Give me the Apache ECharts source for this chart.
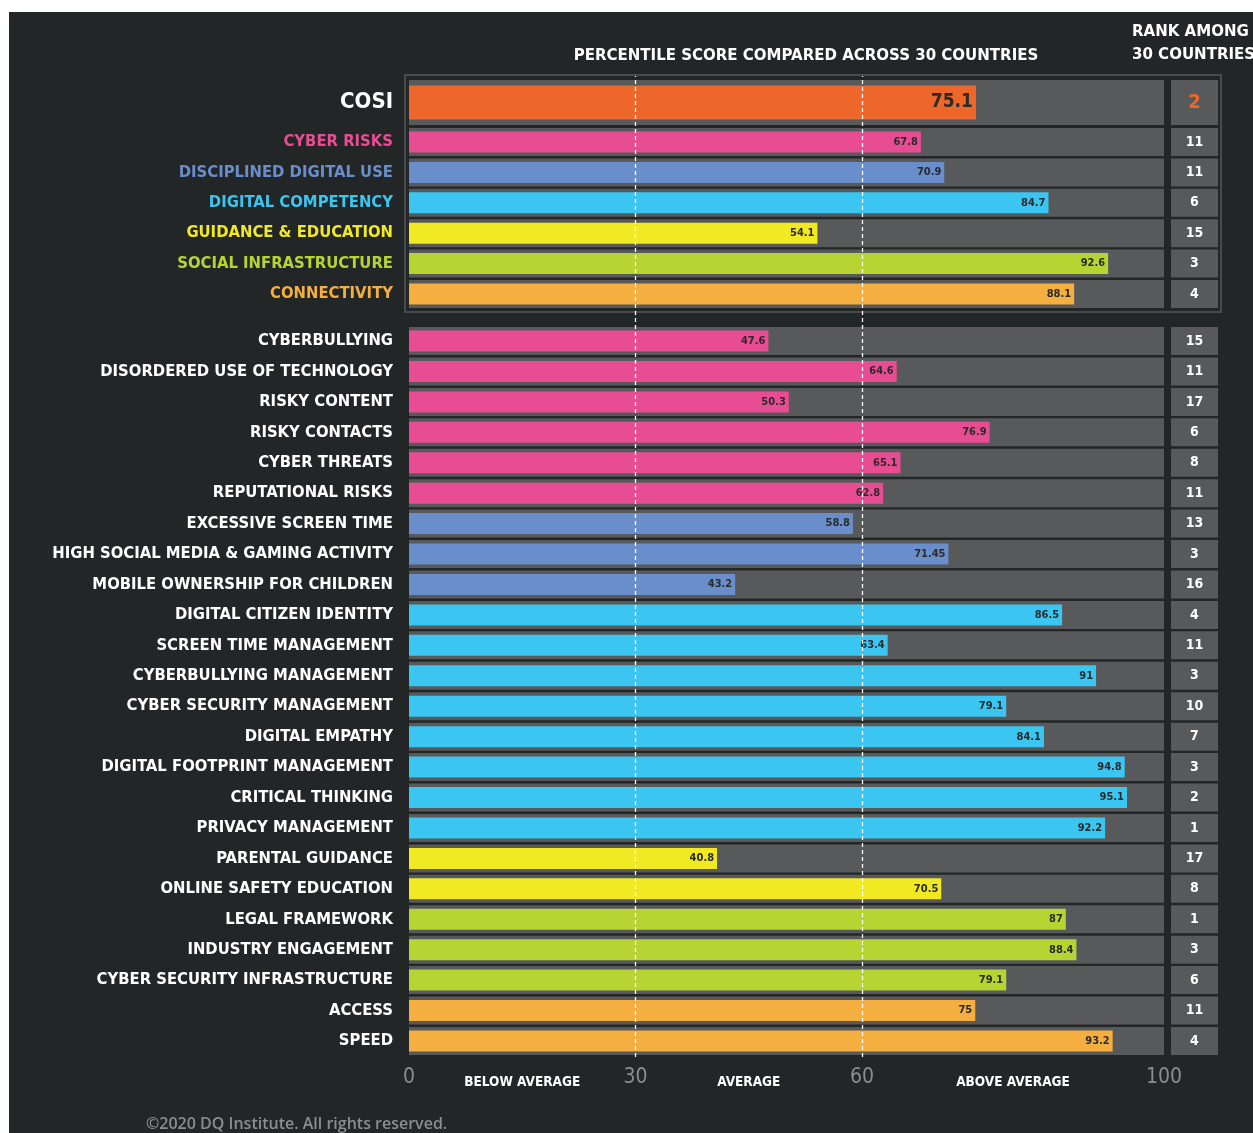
<!DOCTYPE html>
<html><head><meta charset="utf-8">
<script src="https://cdn.jsdelivr.net/npm/echarts@6/dist/echarts.min.js"></script>
<style>
html,body{margin:0;padding:0;background:#fff;width:1253px;height:1133px;overflow:hidden;}
#bg{position:absolute;left:9px;top:12px;width:1244px;height:1121px;background:#222627;}
#chart{position:absolute;left:0;top:0;width:1253px;height:1133px;}
</style></head><body><div id="bg"></div><div id="chart"></div>
<script>
// ---------- data ----------
const cosiCategory = ['COSI'];
const cosiValues = [75.1];
const cosiRanks = [2];

const dimensionCategories = ['CYBER RISKS','DISCIPLINED DIGITAL USE','DIGITAL COMPETENCY','GUIDANCE & EDUCATION','SOCIAL INFRASTRUCTURE','CONNECTIVITY'];
const dimensionValues = [67.8, 70.9, 84.7, 54.1, 92.6, 88.1];
const dimensionRanks = [11, 11, 6, 15, 3, 4];

const indicatorCategories = ['CYBERBULLYING','DISORDERED USE OF TECHNOLOGY','RISKY CONTENT','RISKY CONTACTS','CYBER THREATS','REPUTATIONAL RISKS','EXCESSIVE SCREEN TIME','HIGH SOCIAL MEDIA & GAMING ACTIVITY','MOBILE OWNERSHIP FOR CHILDREN','DIGITAL CITIZEN IDENTITY','SCREEN TIME MANAGEMENT','CYBERBULLYING MANAGEMENT','CYBER SECURITY MANAGEMENT','DIGITAL EMPATHY','DIGITAL FOOTPRINT MANAGEMENT','CRITICAL THINKING','PRIVACY MANAGEMENT','PARENTAL GUIDANCE','ONLINE SAFETY EDUCATION','LEGAL FRAMEWORK','INDUSTRY ENGAGEMENT','CYBER SECURITY INFRASTRUCTURE','ACCESS','SPEED'];
const indicatorValues = [47.6, 64.6, 50.3, 76.9, 65.1, 62.8, 58.8, 71.45, 43.2, 86.5, 63.4, 91, 79.1, 84.1, 94.8, 95.1, 92.2, 40.8, 70.5, 87, 88.4, 79.1, 75, 93.2];
const indicatorRanks = [15, 11, 17, 6, 8, 11, 13, 3, 16, 4, 11, 3, 10, 7, 3, 2, 1, 17, 8, 1, 3, 6, 11, 4];
// which dimension each indicator belongs to (index into dimensionCategories)
const indicatorDimension = [0,0,0,0,0,0,1,1,1,2,2,2,2,2,2,2,2,3,3,4,4,4,5,5];

const xTicks = [0, 30, 60, 100];
const zoneLabels = ['BELOW AVERAGE', 'AVERAGE', 'ABOVE AVERAGE'];

const titleText = 'PERCENTILE SCORE COMPARED ACROSS 30 COUNTRIES';
const rankTitle = 'RANK AMONG\n30 COUNTRIES';
const copyright = '\u00a92020 DQ Institute. All rights reserved.';

// ---------- style ----------
const FONT = "'DejaVu Sans Condensed','Liberation Sans Narrow','Liberation Sans',sans-serif";
const dimensionColors = ['#e84c93', '#6a8dcb', '#3bc5f1', '#f1e922', '#b8d433', '#f5ae40'];
const cosiColor = '#ec6729';
const trackColor = '#58595b';
const X_MIN = xTicks[0], X_MAX = xTicks[xTicks.length - 1];
const zoneMids = zoneLabels.map((_, i) => (xTicks[i] + xTicks[i + 1]) / 2);

const groups = [
  { cats: cosiCategory, vals: cosiValues, ranks: cosiRanks, color: () => cosiColor, labelColor: () => '#ffffff',
    labelSize: 22, labelPad: [5, 0, 0, 0], trackW: 45, barW: 34, valSize: 19, rankSize: 20, rankColor: cosiColor, rankH: 45,
    grid: { top: 80, height: 45 } },
  { cats: dimensionCategories, vals: dimensionValues, ranks: dimensionRanks, color: i => dimensionColors[i], labelColor: i => dimensionColors[i],
    labelSize: 16.5, labelPad: 0, trackW: 28, barW: 21, valSize: 11, rankSize: 14, rankColor: '#ffffff', rankH: 28,
    grid: { top: 126.8, height: 182.4 } },
  { cats: indicatorCategories, vals: indicatorValues, ranks: indicatorRanks, color: i => dimensionColors[indicatorDimension[i]], labelColor: () => '#ffffff',
    labelSize: 16.5, labelPad: 0, trackW: 28, barW: 21, valSize: 11, rankSize: 14, rankColor: '#ffffff', rankH: 28,
    grid: { top: 325.8, height: 730.4 } }
];

const GL = 409, GR = 89;
const grid = [], xAxis = [], yAxis = [], series = [];
groups.forEach((g, gi) => {
  grid.push({ left: GL, right: GR, top: g.grid.top, height: g.grid.height });
  xAxis.push({ gridIndex: gi, type: 'value', min: X_MIN, max: X_MAX, show: false });
  yAxis.push({
    gridIndex: gi, type: 'category', data: g.cats, inverse: true,
    axisLine: { show: false }, axisTick: { show: false }, splitLine: { show: false },
    axisLabel: { margin: 16, fontFamily: FONT, fontWeight: 'bold', fontSize: g.labelSize, padding: g.labelPad,
      color: (v, i) => g.labelColor(i) }
  });
  yAxis.push({
    gridIndex: gi, type: 'category', data: g.cats, inverse: true, position: 'right',
    axisLine: { show: false }, axisTick: { show: false }, splitLine: { show: false },
    axisLabel: { margin: 7, align: 'left',
      formatter: (v, i) => '{r|' + g.ranks[i] + '}',
      rich: { r: { width: 47, height: g.rankH, lineHeight: g.rankH, align: 'center', backgroundColor: trackColor,
        color: g.rankColor, fontFamily: FONT, fontWeight: 'bold', fontSize: g.rankSize } } }
  });
  series.push({
    type: 'bar', xAxisIndex: gi, yAxisIndex: gi * 2, silent: true, z: 1,
    data: g.cats.map(() => X_MAX), barWidth: g.trackW,
    itemStyle: { color: trackColor }
  });
  series.push({
    type: 'bar', xAxisIndex: gi, yAxisIndex: gi * 2 + 1, silent: true, z: 2,
    data: g.vals.map((v, i) => ({ value: v, itemStyle: { color: g.color(i) } })),
    barWidth: g.barW,
    label: { show: true, position: 'insideRight', distance: 3, color: '#2b2b2b',
      fontFamily: FONT, fontWeight: 'bold', fontSize: g.valSize, formatter: p => String(p.value) }
  });
});

// overlay grid for reference lines and the bottom scale
grid.push({ left: GL, right: GR, top: 76, height: 981 });
xAxis.push({
  gridIndex: 3, type: 'value', min: X_MIN, max: X_MAX, interval: 5,
  axisLine: { show: false }, axisTick: { show: false }, splitLine: { show: false },
  axisLabel: {
    margin: 8, showMinLabel: true, showMaxLabel: true,
    formatter: v => {
      if (xTicks.includes(v)) return '{t|' + v + '}';
      const zi = zoneMids.indexOf(v);
      if (zi >= 0) return '{z|' + zoneLabels[zi] + '}';
      return '';
    },
    rich: {
      t: { fontFamily: FONT, fontSize: 21, color: '#8b8d8f', lineHeight: 26 },
      z: { fontFamily: FONT, fontSize: 13.5, fontWeight: 'bold', color: '#ffffff', lineHeight: 26, padding: [8, 0, 0, 0] }
    }
  }
});
yAxis.push({ gridIndex: 3, type: 'value', min: 0, max: 1, show: false });
series.push({
  type: 'line', xAxisIndex: 3, yAxisIndex: 6, data: [], z: 10, silent: true,
  markLine: {
    silent: true, symbol: ['none', 'none'], label: { show: false },
    lineStyle: { color: '#ffffff', type: [4, 3], width: 1.3 },
    data: xTicks.filter(t => t > X_MIN && t < X_MAX).map(t => ({ xAxis: t }))
  }
});

const option = {
  animation: false,
  backgroundColor: 'transparent',
  title: [
    { text: titleText, left: 806, top: 47, textAlign: 'center', padding: 0,
      textStyle: { color: '#ffffff', fontFamily: FONT, fontWeight: 'bold', fontSize: 16.7 } },
    { text: rankTitle, left: 1132, top: 20, padding: 0,
      textStyle: { color: '#ffffff', fontFamily: FONT, fontWeight: 'bold', fontSize: 16.7, lineHeight: 23 } },
    { text: copyright, left: 146, top: 1116, padding: 0,
      textStyle: { color: '#8b8d8f', fontFamily: "'Open Sans',sans-serif", fontWeight: 600, fontSize: 16 } }
  ],
  graphic: [
    { type: 'rect', z: 0, silent: true,
      shape: { x: 405, y: 75, width: 816, height: 237 },
      style: { fill: 'none', stroke: '#484b4d', lineWidth: 2 } }
  ],
  grid, xAxis, yAxis, series
};

const chart = echarts.init(document.getElementById('chart'), null, { renderer: 'canvas' });
chart.setOption(option);
</script>
</body></html>
